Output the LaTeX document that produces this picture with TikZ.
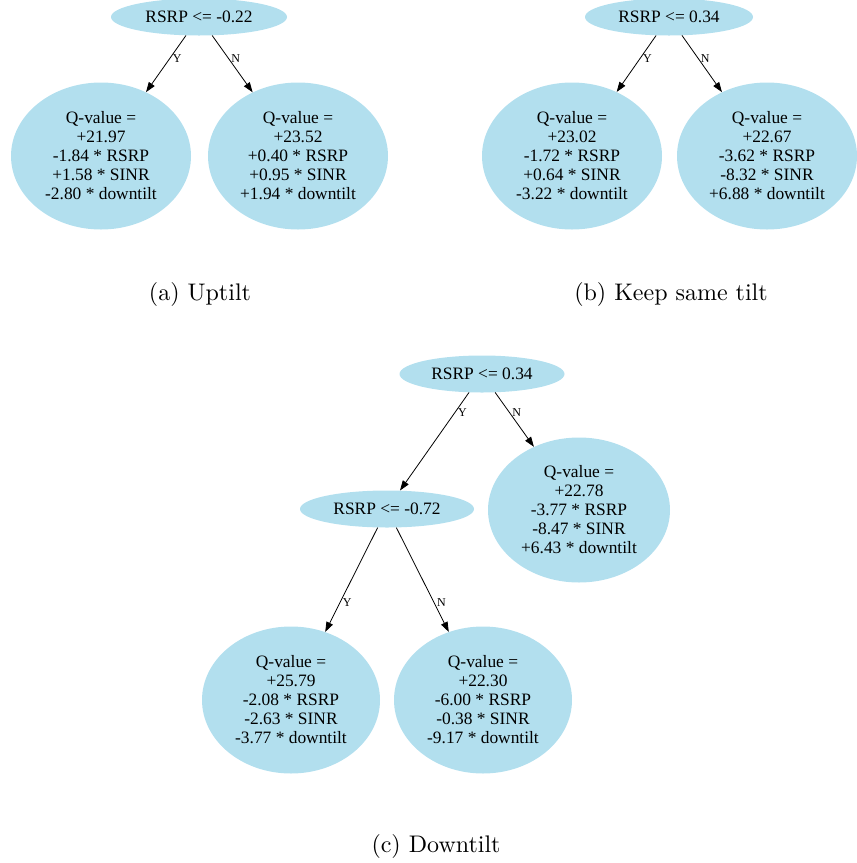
\documentclass[tikz,border=0pt]{standalone}
\usepackage{fontspec}
\newfontfamily\tms{Liberation Serif}
\newfontfamily\lmten{lmroman10-regular.otf}
\usetikzlibrary{shapes.geometric,arrows.meta}
\definecolor{nodeblue}{HTML}{B2DFEE}
\begin{document}
\begin{tikzpicture}[x=1pt,y=-1pt,
 cond/.style={ellipse, fill=nodeblue, draw=none, inner sep=0pt, minimum width=#1, minimum height=37pt, font=\tms\fontsize{17.4}{19}\selectfont},
 cond/.default=176pt,
 leaf/.style={ellipse, fill=nodeblue, draw=none, inner sep=0pt, minimum width=180pt, minimum height=147pt, align=center, font=\tms\fontsize{17.4}{19}\selectfont},
 conn/.style={draw=black, line width=0.8pt, -{Triangle[length=10pt,width=7pt]}},
 elab/.style={font=\tms\fontsize{12}{12}\selectfont, anchor=west, inner sep=1pt, xshift=1.5pt},
 captext/.style={font=\lmten\fontsize{24}{28}\selectfont, inner sep=0pt}]
\useasboundingbox (0,0) rectangle (857,863);
% (a)
\node[cond] (a0) at (199,17) {RSRP <= -0.22};
\node[leaf] (a1) at (101,156) {Q-value =\\+21.97\\-1.84 * RSRP\\+1.58 * SINR\\-2.80 * downtilt};
\node[leaf] (a2) at (298,156) {Q-value =\\+23.52\\+0.40 * RSRP\\+0.95 * SINR\\+1.94 * downtilt};
\draw[conn] (a0) -- node[elab, pos=0.4] {Y} (a1);
\draw[conn] (a0) -- node[elab, pos=0.4] {N} (a2);
\node[captext] (capa) at (200,294) {(a) Uptilt};
% (b)
\node[cond=168pt] (b0) at (669,17) {RSRP <= 0.34};
\node[leaf] (b1) at (572,156) {Q-value =\\+23.02\\-1.72 * RSRP\\+0.64 * SINR\\-3.22 * downtilt};
\node[leaf] (b2) at (767,156) {Q-value =\\+22.67\\-3.62 * RSRP\\-8.32 * SINR\\+6.88 * downtilt};
\draw[conn] (b0) -- node[elab, pos=0.4] {Y} (b1);
\draw[conn] (b0) -- node[elab, pos=0.4] {N} (b2);
\node[captext] (capb) at (671,294) {(b) Keep same tilt};
% (c)
\node[cond=165pt] (c0) at (482,374) {RSRP <= 0.34};
\node[cond=174pt] (c1) at (387,509) {RSRP <= -0.72};
\node[leaf, minimum width=182pt, minimum height=145pt] (c2) at (579,510) {Q-value =\\+22.78\\-3.77 * RSRP\\-8.47 * SINR\\+6.43 * downtilt};
\node[leaf, minimum width=178pt] (c3) at (291,700) {Q-value =\\+25.79\\-2.08 * RSRP\\-2.63 * SINR\\-3.77 * downtilt};
\node[leaf, minimum width=178pt] (c4) at (483,700) {Q-value =\\+22.30\\-6.00 * RSRP\\-0.38 * SINR\\-9.17 * downtilt};
\draw[conn] (c0) -- node[elab, pos=0.2] {Y} (c1);
\draw[conn] (c0) -- node[elab, pos=0.37] {N} (c2);
\draw[conn] (c1) -- node[elab, pos=0.72] {Y} (c3);
\draw[conn] (c1) -- node[elab, pos=0.72] {N} (c4);
\node[captext] (capc) at (436,846) {(c) Downtilt};
\end{tikzpicture}
\end{document}
